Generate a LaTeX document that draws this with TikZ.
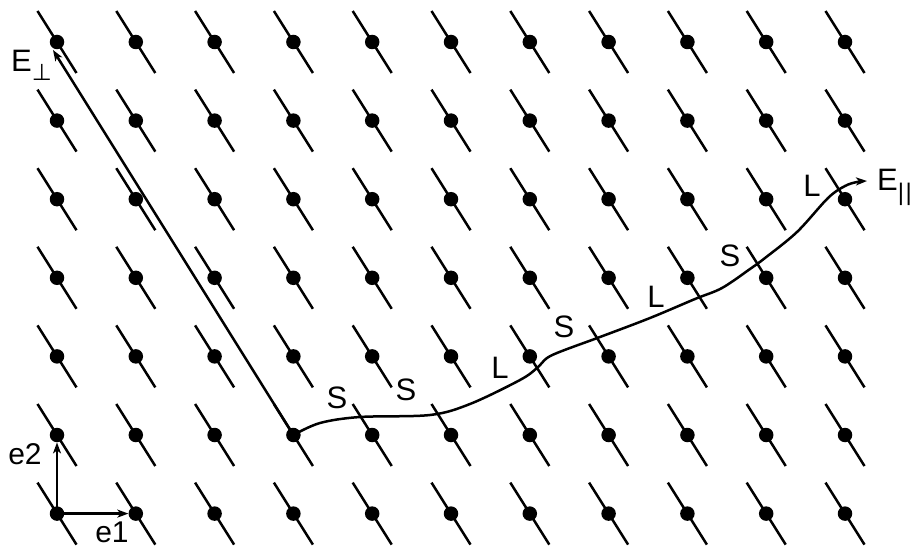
\documentclass[tikz,border=0pt]{standalone}
\usepackage{fontspec}
\setmainfont{Liberation Sans}
\newfontfamily\symfont{DejaVu Sans}
\usetikzlibrary{arrows.meta,calc}
\begin{document}
\begin{tikzpicture}[x=1pt,y=-1pt,
  dot/.style={circle,fill=black,inner sep=0pt,minimum size=14.5pt},
  seg/.style={line width=2.5pt},
  arr/.style={line width=2.5pt,-{Stealth[length=11pt,width=8pt,inset=3pt]}},
  big/.style={inner sep=0pt,font=\fontsize{31}{31}\selectfont},
  small/.style={inner sep=0pt,font=\fontsize{30}{30}\selectfont}]
\useasboundingbox (0,0) rectangle (916,548);
% lattice points
\foreach \i in {0,...,10}{
  \foreach \j in {0,...,6}{
    \coordinate (c\i-\j) at ({57+78.8*\i},{42+78.6*\j});
    \draw[seg] ($(c\i-\j)+(-19.5,-31)$) -- ($(c\i-\j)+(19.5,31)$);
  }
}
\foreach \i in {0,...,10}{
  \foreach \j in {0,...,6}{
    \node[dot] (p\i-\j) at (c\i-\j) {};
  }
}
% E perp
\coordinate (eperp) at (53,50);
\draw[arr] (p3-5.center) -- (eperp);
\node[big,anchor=base west] (lperp) at (11,72) {E\raisebox{-9pt}{\symfont\fontsize{23}{23}\selectfont ⊥}};
% basis vectors
\draw[arr] (p0-6.center) -- (p1-6);
\draw[arr] (p0-6.center) -- (p0-5);
\node[small] (le1) at (112,532) {e1};
\node[small] (le2) at (25,454) {e2};
% E parallel path
\coordinate (epar) at (867,181);
\draw[arr] plot[smooth,tension=0.55] coordinates {(p3-5.center) (320,423) (360,417) (430,415) (470,404) (520,380) (537,368) (547,358) (562,351) (600,337) (650,318) (695,299) (722,288) (750,269) (765,258) (797,232) (828,198) (845,186) (857,182) (epar)};
\node[big,anchor=base west] (lpar) at (877,191) {E\raisebox{-10pt}{\fontsize{24}{24}\selectfont|\kern1.5pt|}};
% S / L labels
\node[big] (s1) at (337,398) {S};
\node[big] (s2) at (406,390) {S};
\node[big] (l1) at (500,368) {L};
\node[big] (s3) at (564,327) {S};
\node[big] (l2) at (656,297) {L};
\node[big] (s4) at (730,256) {S};
\node[big] (l3) at (812,186) {L};
\end{tikzpicture}
\end{document}
